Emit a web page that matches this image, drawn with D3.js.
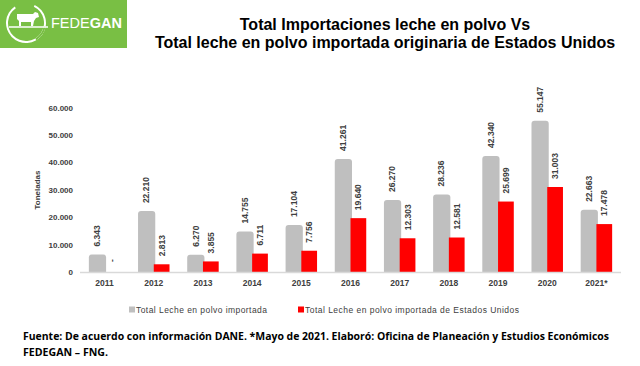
<!DOCTYPE html>
<html><head><meta charset="utf-8">
<script src="https://cdn.jsdelivr.net/npm/d3@7"></script>
<style>html,body{margin:0;padding:0;background:#fff;}svg{display:block;}</style>
</head><body>
<svg id="c" width="640" height="366"></svg>
<script>
const years = ["2011","2012","2013","2014","2015","2016","2017","2018","2019","2020","2021*"];
const totalImport = [6343,22210,6270,14755,17104,41261,26270,28236,42340,55147,22663];
const usImport = [null,2813,3855,6711,7756,19640,12303,12581,25699,31003,17478];
const yTicks = [0,10000,20000,30000,40000,50000,60000];
const seriesNames = ["Total Leche en polvo importada","Total Leche en polvo importada de Estados Unidos"];
const seriesColors = ["#bfbfbf","#ff0000"];
const titleLines = ["Total Importaciones leche en polvo Vs","Total leche en polvo importada originaria de Estados Unidos"];
const footerLines = ["Fuente: De acuerdo con información DANE. *Mayo de 2021. Elaboró: Oficina de Planeación y Estudios Económicos","FEDEGAN – FNG."];

const loc = d3.formatLocale({decimal:",",thousands:".",grouping:[3],currency:["$",""]});
const fmt = v => v === 0 ? "0" : loc.format(",")(v);

const svg = d3.select("#c");
const FONT = "Liberation Sans, Arial, sans-serif";

// Logo
const logo = svg.append("g");
logo.append("rect").attr("x",0).attr("y",0).attr("width",127).attr("height",48).attr("fill","#79bf44");
const arc = d3.arc().innerRadius(18).outerRadius(20);
logo.append("path").attr("transform","translate(26,23)")
  .attr("d", arc({startAngle: 0.45, endAngle: 2*Math.PI - 0.6}))
  .attr("fill","#fff");
logo.append("path").attr("transform","translate(26,23)")
  .attr("d", d3.arc().innerRadius(18).outerRadius(20)({startAngle: 1.75, endAngle: 2.6}))
  .attr("fill","#79bf44");
logo.append("line").attr("x1",9).attr("x2",48).attr("y1",27).attr("y2",27).attr("stroke","#fff").attr("stroke-width",1.5);
logo.append("path").attr("fill","#fff")
  .attr("d","M17,14 L33,14 L35,12 L38,13 L39,17 L36,18 L34,21 L33,26 L31,26 L31,22 L21,22 L21,26 L19,26 L19,21 L17,19 Z");
const lt = logo.append("text").attr("x",51).attr("y",28).attr("fill","#fff").attr("font-family",FONT).attr("font-size",14.5);
lt.append("tspan").text("FEDE").attr("font-weight","normal");
lt.append("tspan").text("GAN").attr("font-weight","bold");

// Title
svg.selectAll("text.title").data(titleLines).enter().append("text")
  .attr("class","title").attr("x",385).attr("y",(d,i)=>30+i*18)
  .attr("text-anchor","middle").attr("font-family",FONT).attr("font-weight","bold")
  .attr("font-size",16).attr("fill","#000").text(d=>d);

// Scales
const x0 = d3.scaleBand().domain(years).range([80,621]).paddingInner(0.36).paddingOuter(0.18);
const x1 = d3.scaleBand().domain([0,1]).range([0,x0.bandwidth()]);
const y = d3.scaleLinear().domain([0,60000]).range([272,107.5]);

// Y axis labels
const yAxis = d3.axisLeft(y).tickValues(yTicks).tickFormat(fmt).tickSize(0).tickPadding(0);
const ya = svg.append("g").attr("transform","translate(73,0)").call(yAxis);
ya.select(".domain").remove();
ya.selectAll("text").attr("font-family",FONT).attr("font-weight","bold").attr("font-size",8).attr("fill","#404040");

svg.append("text").attr("transform","translate(40,190) rotate(-90)")
  .attr("text-anchor","middle").attr("font-family",FONT).attr("font-weight","bold")
  .attr("font-size",8).attr("fill","#404040").text("Toneladas");

// Bars
const bw = x1.bandwidth();
const r = 3;
const g = svg.append("g");
g.selectAll("path.tot").data(totalImport).enter().append("path").attr("class","tot")
  .attr("fill",seriesColors[0])
  .attr("d",(d,i)=>{
    const xl = x0(years[i]) + x1(0), w = bw + 1.5, yt = y(d), yb = y(0);
    const p = d3.path();
    p.moveTo(xl,yb); p.lineTo(xl,yt+r); p.quadraticCurveTo(xl,yt,xl+r,yt);
    p.lineTo(xl+w-r,yt); p.quadraticCurveTo(xl+w,yt,xl+w,yt+r); p.lineTo(xl+w,yb); p.closePath();
    return p.toString();
  });
g.selectAll("rect.us").data(usImport).enter().append("rect").attr("class","us")
  .attr("fill",seriesColors[1])
  .attr("x",(d,i)=>x0(years[i]) + x1(1)).attr("width",bw)
  .attr("y",d=>y(d||0)).attr("height",d=>y(0)-y(d||0));

// X axis line
svg.append("line").attr("x1",80).attr("x2",621).attr("y1",272.5).attr("y2",272.5).attr("stroke","#d9d9d9").attr("stroke-width",1.5);

// X labels
const xAxis = d3.axisBottom(x0).tickSize(0).tickPadding(0);
const xa = svg.append("g").attr("transform","translate(0,286)").call(xAxis);
xa.select(".domain").remove();
xa.selectAll("text").attr("dy",0).attr("font-family",FONT).attr("font-weight","bold").attr("font-size",8.5).attr("fill","#404040");

// Value labels
const lab = svg.append("g").attr("font-family",FONT).attr("font-size",8.5).attr("fill","#404040").attr("font-weight","bold");
lab.selectAll("text.lt").data(totalImport).enter().append("text")
  .attr("transform",(d,i)=>`translate(${x0(years[i])+x1(0)+bw/2+0.5},${y(d)-8}) rotate(-90)`)
  .attr("dy","0.35em").attr("text-anchor","start").text(d=>fmt(d));
lab.selectAll("text.lu").data(usImport).enter().append("text")
  .attr("transform",(d,i)=>`translate(${x0(years[i])+x1(1)+bw/2},${y(d||0)-(d==null?10:8)}) rotate(-90)`)
  .attr("dy","0.35em").attr("text-anchor","start").text(d=>d==null?"-":fmt(d));

// Legend
const legX = [129,298], legW = [131,214];
const leg = svg.append("g");
seriesNames.forEach((n,i)=>{
  leg.append("rect").attr("x",legX[i]).attr("y",306.5).attr("width",6).attr("height",6).attr("fill",seriesColors[i]);
  leg.append("text").attr("x",legX[i]+7).attr("y",312.5).attr("font-family",FONT).attr("font-size",8.5)
    .attr("fill","#404040").attr("textLength",legW[i]).attr("lengthAdjust","spacing").text(n);
});

// Footer
const footW = [586, 85];
svg.selectAll("text.foot").data(footerLines).enter().append("text").attr("class","foot")
  .attr("x",23).attr("y",(d,i)=>339.5+i*16.5).attr("font-family","Open Sans, sans-serif").attr("font-weight","bold")
  .attr("font-size",10).attr("fill","#000")
  .attr("textLength",(d,i)=>footW[i]).attr("lengthAdjust","spacingAndGlyphs")
  .text(d=>d);
</script>
</body></html>
